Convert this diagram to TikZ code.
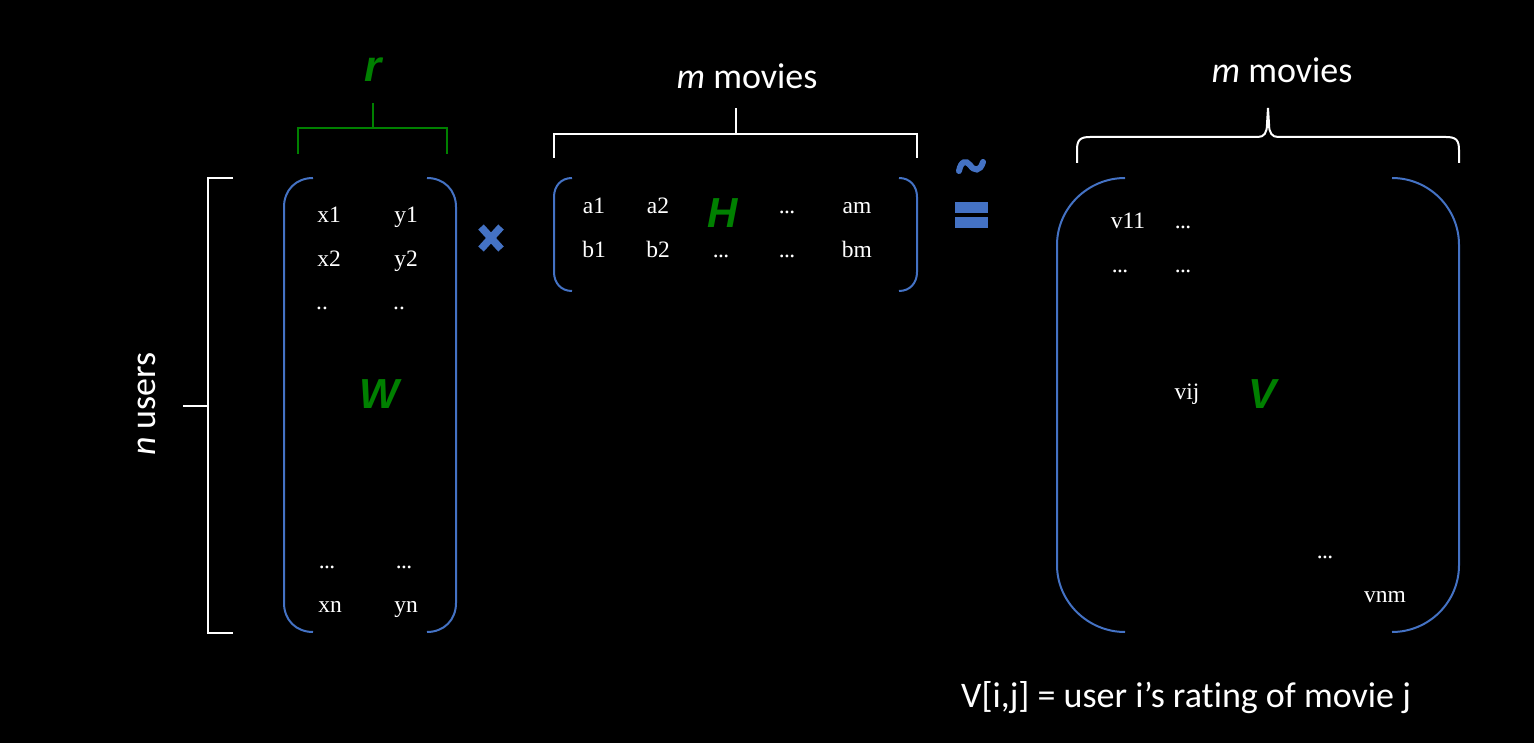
\documentclass[tikz,border=0pt]{standalone}
\usepackage{fontspec}
\setmainfont{Carlito}[Ligatures=CommonOff]
\newfontfamily\entfont{Liberation Serif}
\newfontfamily\bigfont{Liberation Sans}
\definecolor{mygreen}{HTML}{008000}
\definecolor{myblue}{HTML}{4472C4}
\newcommand{\dts}{.\kern-0.6pt.\kern-0.6pt.}
\tikzset{
  lbl/.style={text=white, font=\fontsize{36}{40}\selectfont, inner sep=0, anchor=base},
  ent/.style={text=white, font=\entfont\fontsize{23.5}{26}\selectfont, inner sep=0, anchor=base},
  big/.style={text=mygreen, font=\bigfont\fontsize{42}{44}\selectfont\bfseries\itshape, inner sep=0, anchor=base},
  mbr/.style={draw=myblue, line width=2pt},
  wbr/.style={draw=white, line width=2pt},
  gbr/.style={draw=mygreen, line width=2pt},
  opsym/.style={draw=myblue, line width=7.5pt},
}
\begin{document}
\begin{tikzpicture}[x=1pt,y=-1pt]
\fill[black] (0,0) rectangle (1534,743);
\useasboundingbox (0,0) rectangle (1534,743);

% ---------- W ----------
\node[big, font=\bigfont\fontsize{44}{46}\selectfont\bfseries\itshape] (r) at (373,82) {r};
\draw[gbr] (298,154) -- (298,128) -- (447,128) -- (447,154);
\draw[gbr] (373,128) -- (373,103);

\draw[wbr] (233,178) -- (208,178) -- (208,633) -- (233,633);
\draw[wbr] (183,406) -- (208,406);
\node[lbl, rotate=90] (nusers) at (155,404) {\textit{n} users};

\draw[mbr] (313,178) .. controls (296,178) and (284,190) .. (284,207) -- (284,603) .. controls (284,620) and (296,632) .. (313,632);
\draw[mbr] (427,178) .. controls (444,178) and (456,190) .. (456,207) -- (456,603) .. controls (456,620) and (444,632) .. (427,632);

\node[ent] (x1) at (329,223) {x1};
\node[ent] (y1) at (406,223) {y1};
\node[ent] (x2) at (329,267) {x2};
\node[ent] (y2) at (406,267) {y2};
\node[ent] (xd) at (322,310) {..};
\node[ent] (yd) at (399,310) {..};
\node[big] (W) at (379,408) {W};
\node[ent] (xe) at (327,568) {\dts};
\node[ent] (ye) at (404,568) {\dts};
\node[ent] (xn) at (330,612) {xn};
\node[ent] (yn) at (406,612) {yn};

% ---------- times ----------
\coordinate (t1) at (481,227);
\coordinate (t2) at (501,249);
\coordinate (t3) at (501,227);
\coordinate (t4) at (481,249);
\draw[opsym] (t1) -- (t2);
\draw[opsym] (t3) -- (t4);

% ---------- H ----------
\node[lbl] (mm1) at (747,89) {\textit{m} movies};
\draw[wbr] (554,158) -- (554,134) -- (917,134) -- (917,158);
\draw[wbr] (736,134) -- (736,108);

\draw[mbr] (572,178) .. controls (561,178) and (554,186) .. (554,197) -- (554,272) .. controls (554,283) and (561,291) .. (572,291);
\draw[mbr] (899,178) .. controls (910,178) and (917,186) .. (917,197) -- (917,272) .. controls (917,283) and (910,291) .. (899,291);

\node[ent] (a1) at (594,214) {a1};
\node[ent] (a2) at (658,214) {a2};
\node[big] (H) at (723,228) {H};
\node[ent] (ad) at (787,214) {\dts};
\node[ent] (am) at (857,214) {am};
\node[ent] (b1) at (594,258) {b1};
\node[ent] (b2) at (658,258) {b2};
\node[ent] (bd1) at (721,258) {\dts};
\node[ent] (bd2) at (787,258) {\dts};
\node[ent] (bm) at (857,258) {bm};

% ---------- approx ----------
\draw[myblue, line width=6pt, line cap=round] (959,171) .. controls (961,161) and (966,160) .. (970,165) .. controls (974,171) and (980,172) .. (983,162);
\fill[myblue] (955,202) rectangle (988,213);
\fill[myblue] (955,217) rectangle (988,228);

% ---------- V ----------
\node[lbl] (mm2) at (1282,83) {\textit{m} movies};
\draw[wbr] (1077,163) -- (1077,150) .. controls (1077,140) and (1080,137) .. (1090,137) -- (1258,137) .. controls (1264,137) and (1267,133) .. (1267,124) -- (1268,108) -- (1269,124) .. controls (1269,133) and (1272,137) .. (1278,137) -- (1446,137) .. controls (1456,137) and (1459,140) .. (1459,150) -- (1459,163);

\draw[mbr] (1125,178) .. controls (1088,178) and (1057,208) .. (1057,245) -- (1057,565) .. controls (1057,602) and (1088,632) .. (1125,632);
\draw[mbr] (1392,178) .. controls (1429,178) and (1459,208) .. (1459,245) -- (1459,565) .. controls (1459,602) and (1429,632) .. (1392,632);

\node[ent] (v11) at (1128,229) {v11};
\node[ent] (v1d) at (1183,229) {\dts};
\node[ent] (vd1) at (1120,273) {\dts};
\node[ent] (vdd) at (1183,273) {\dts};
\node[ent] (vij) at (1187,399) {vij};
\node[big] (V) at (1262,408) {V};
\node[ent] (vnd) at (1325,558) {\dts};
\node[ent] (vnm) at (1385,602) {vnm};

\node[lbl] (cap) at (1186,707) {V[i,j] = user i’s rating of movie j};
\end{tikzpicture}
\end{document}
